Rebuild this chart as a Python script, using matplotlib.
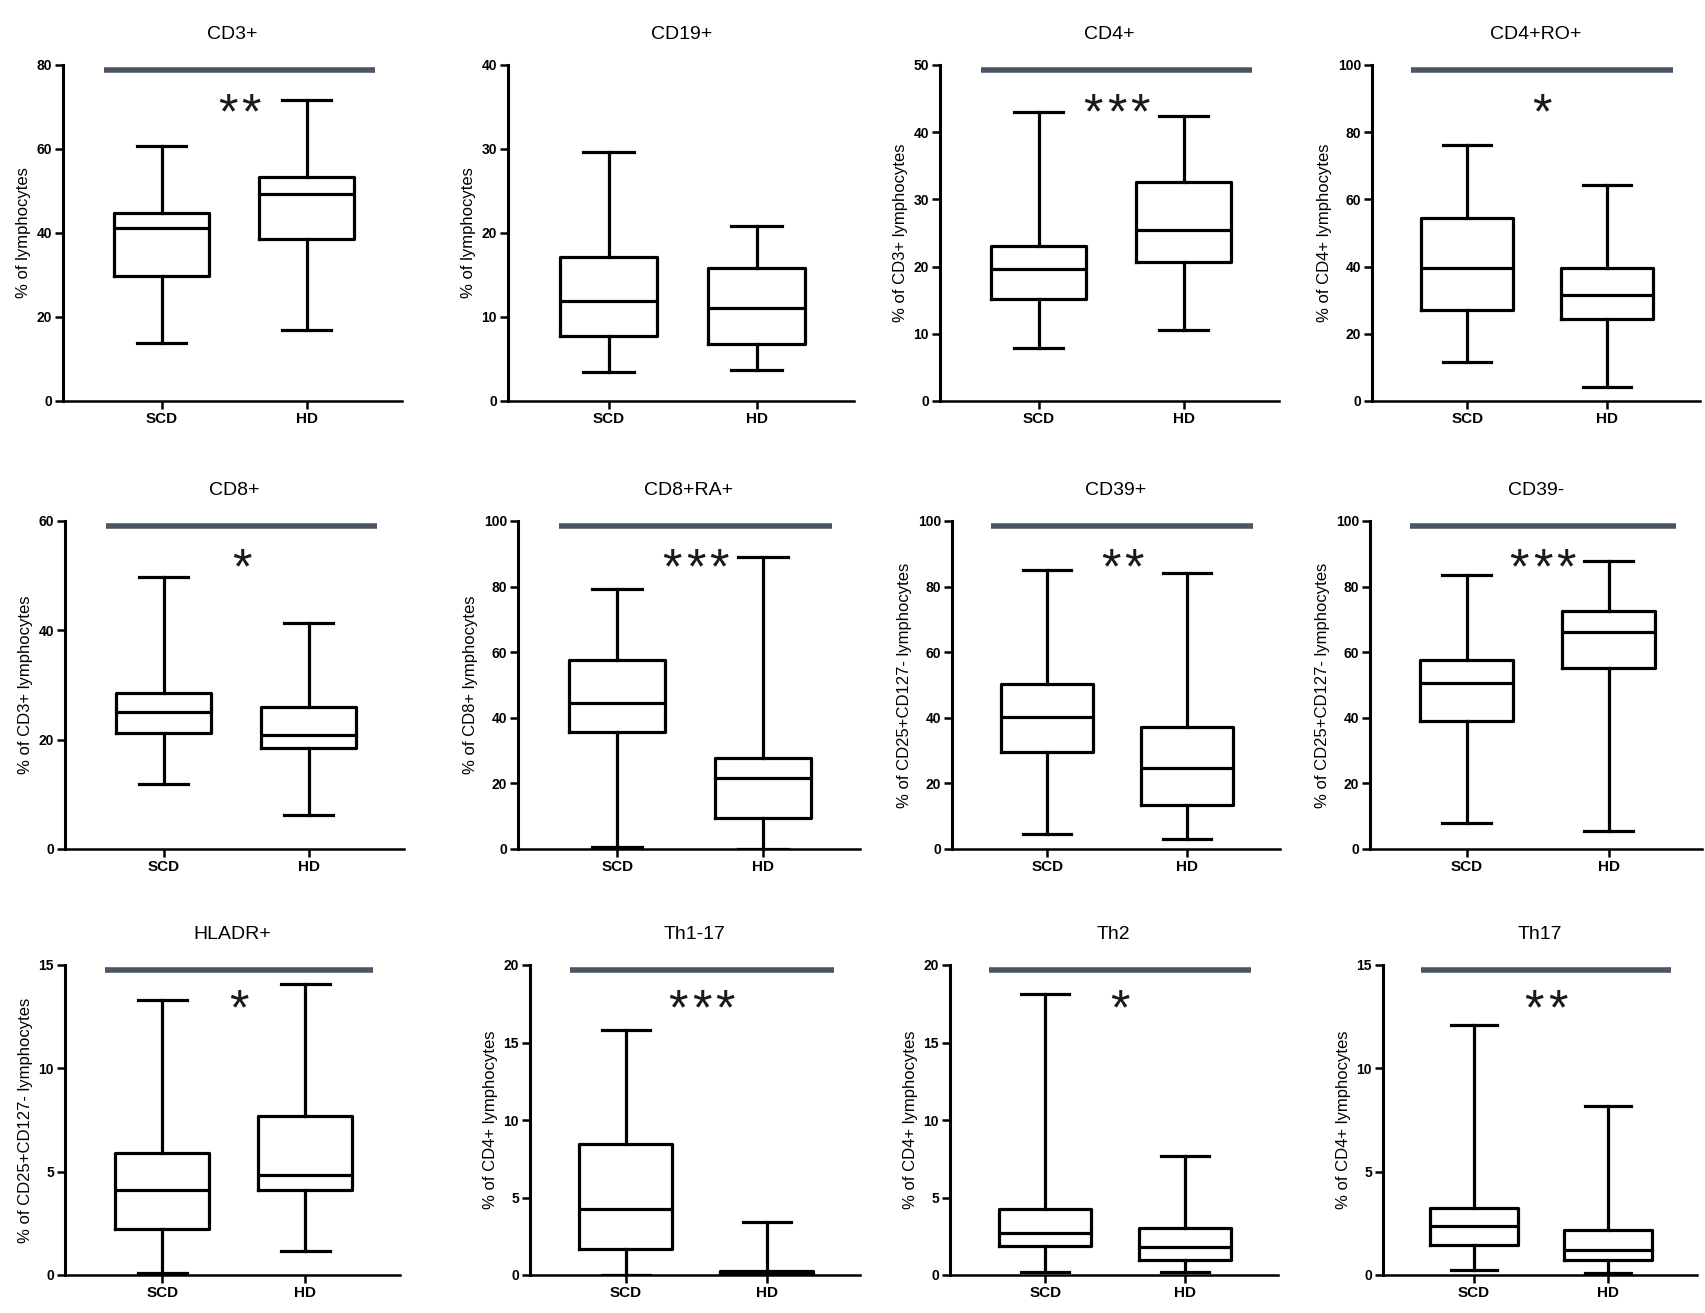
import matplotlib.pyplot as plt
import numpy as np

plt.rcParams['font.family'] = ['Liberation Sans', 'DejaVu Sans']

groups = ['SCD', 'HD']

titles = ['CD3+', 'CD19+', 'CD4+', 'CD4+RO+',
          'CD8+', 'CD8+RA+', 'CD39+', 'CD39-',
          'HLADR+', 'Th1-17', 'Th2', 'Th17']

ylabels = ['% of lymphocytes', '% of lymphocytes',
           '% of CD3+ lymphocytes', '% of CD4+ lymphocytes',
           '% of CD3+ lymphocytes', '% of CD8+ lymphocytes',
           '% of CD25+CD127- lymphocytes', '% of CD25+CD127- lymphocytes',
           '% of CD25+CD127- lymphocytes', '% of CD4+ lymphocytes',
           '% of CD4+ lymphocytes', '% of CD4+ lymphocytes']

yticks = [[0, 20, 40, 60, 80], [0, 10, 20, 30, 40], [0, 10, 20, 30, 40, 50],
          [0, 20, 40, 60, 80, 100],
          [0, 20, 40, 60], [0, 20, 40, 60, 80, 100], [0, 20, 40, 60, 80, 100],
          [0, 20, 40, 60, 80, 100],
          [0, 5, 10, 15], [0, 5, 10, 15, 20], [0, 5, 10, 15, 20], [0, 5, 10, 15]]

stars = [2, 0, 3, 1, 1, 3, 2, 3, 1, 3, 1, 2]

# (min, q1, median, q3, max) for SCD and HD
scd = [
    (13.9, 29.7, 41.2, 44.7, 60.6),
    (3.5, 7.75, 11.9, 17.2, 29.7),
    (7.9, 15.2, 19.6, 23.0, 43.0),
    (11.7, 27.1, 39.5, 54.6, 76.3),
    (11.8, 21.2, 25.1, 28.5, 49.8),
    (0.6, 35.7, 44.5, 57.5, 79.3),
    (4.6, 29.5, 40.3, 50.3, 85.2),
    (7.9, 38.9, 50.5, 57.6, 83.5),
    (0.08, 2.24, 4.1, 5.89, 13.3),
    (0.0, 1.67, 4.23, 8.48, 15.8),
    (0.21, 1.89, 2.68, 4.23, 18.1),
    (0.26, 1.43, 2.35, 3.24, 12.1),
]
hd = [
    (16.8, 38.6, 49.3, 53.3, 71.7),
    (3.7, 6.8, 11.1, 15.8, 20.8),
    (10.6, 20.7, 25.5, 32.6, 42.4),
    (4.1, 24.5, 31.6, 39.7, 64.3),
    (6.2, 18.4, 20.9, 25.9, 41.3),
    (0.0, 9.6, 21.6, 27.6, 89.1),
    (3.0, 13.4, 24.6, 37.3, 84.0),
    (5.4, 55.1, 66.3, 72.5, 87.9),
    (1.18, 4.13, 4.86, 7.67, 14.1),
    (0.0, 0.04, 0.15, 0.28, 3.43),
    (0.21, 0.97, 1.78, 3.05, 7.66),
    (0.08, 0.75, 1.23, 2.16, 8.2),
]

W, H = 1705, 1313
fig = plt.figure(figsize=(W / 100, H / 100), dpi=100)

row_tb = [(65, 401), (521, 849), (965, 1275)]
col_ls = [[(63, 145), (508, 148), (940, 145), (1372, 140)],
          [(65, 145), (518, 146), (952, 140), (1370, 142)],
          [(65, 143), (530, 141), (950, 140), (1383, 134)]]

lw = 2.3
for i in range(12):
    r, c = divmod(i, 4)
    top, bot = row_tb[r]
    left, sp = col_ls[r][c]
    width = 2.34 * sp
    ax = fig.add_axes([left / W, 1 - bot / H, width / W, (bot - top) / H])

    stats = []
    for g, d in zip(groups, (scd[i], hd[i])):
        stats.append(dict(label=g, whislo=d[0], q1=d[1], med=d[2], q3=d[3],
                          whishi=d[4], fliers=[]))
    ax.bxp(stats, positions=[1, 2], widths=0.66, capwidths=0.34,
           showfliers=False,
           boxprops=dict(color='black', linewidth=lw),
           medianprops=dict(color='black', linewidth=lw),
           whiskerprops=dict(color='black', linewidth=lw),
           capprops=dict(color='black', linewidth=lw))

    ax.set_xlim(0.32, 2.66)
    ax.set_ylim(0, yticks[i][-1])
    ax.set_yticks(yticks[i])
    ax.set_xticks([1, 2])
    ax.set_xticklabels(groups, fontsize=11, fontweight='bold')
    for lab in ax.get_yticklabels():
        lab.set_fontsize(10)
        lab.set_fontweight('bold')

    for s in ['top', 'right']:
        ax.spines[s].set_visible(False)
    ax.spines['left'].set_linewidth(2.2)
    ax.spines['bottom'].set_linewidth(1.8)
    ax.tick_params(axis='both', width=1.8, length=6, pad=2)

    ax.set_title(titles[i], fontsize=14, pad=19)
    ax.set_ylabel(ylabels[i], fontsize=12, labelpad=4)

    n = stars[i]
    if n:
        ax.plot([0.12, 0.92], [0.985, 0.985], transform=ax.transAxes,
                color='#4b5563', lw=4, clip_on=False, solid_capstyle='butt')
        for k in range(n):
            ax.annotate('*', xy=(0.52, 0.85), xycoords='axes fraction',
                        xytext=((k - (n - 1) / 2) * 17, 0),
                        textcoords='offset points', ha='center', va='center',
                        fontsize=36, color='#1a1a1a')

fig.savefig('out.png', dpi=100)
